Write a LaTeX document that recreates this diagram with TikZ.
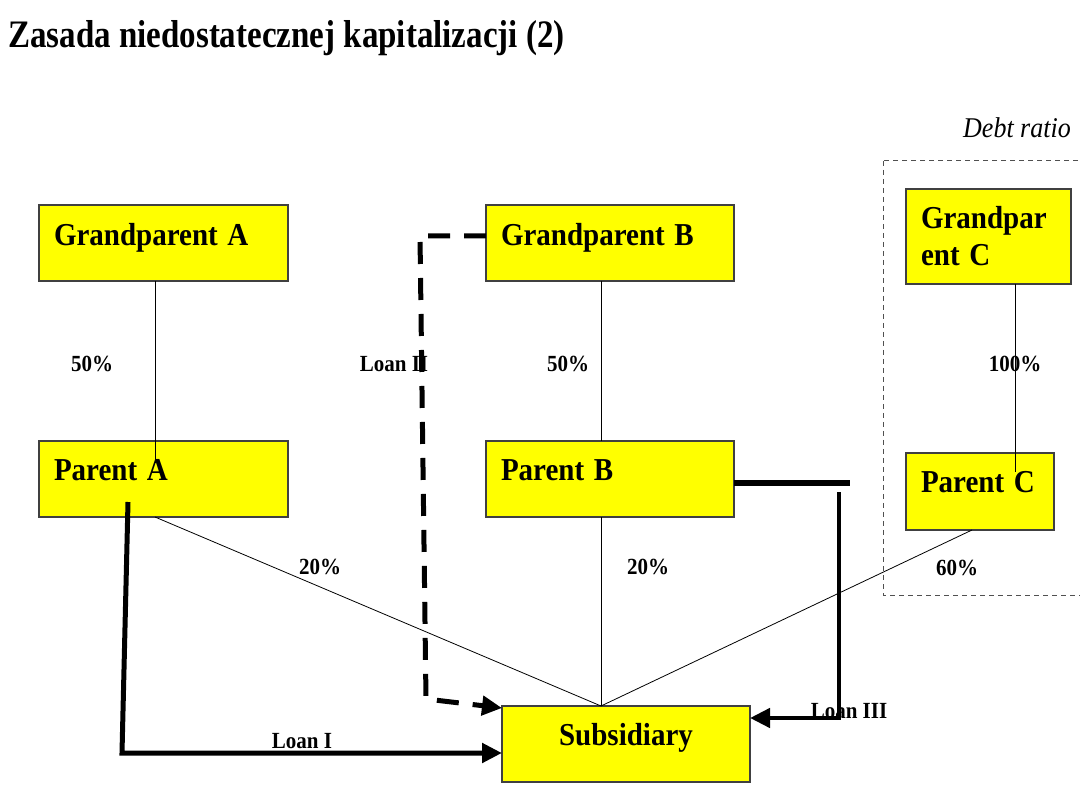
\documentclass[tikz,border=0pt]{standalone}
\usepackage{fontspec}
\setmainfont{Liberation Serif}
\usepackage{graphicx}
\usetikzlibrary{arrows.meta}
\newcommand{\vstretch}[2]{\scalebox{1}[#1]{#2}}
\newcommand{\boxfont}{\fontsize{29}{37}\selectfont\bfseries}
\newcommand{\lblfont}{\fontsize{21}{25}\selectfont\bfseries}
\newcommand{\titlefont}{\fontsize{33}{40}\selectfont\bfseries}
\definecolor{boxyellow}{HTML}{FFFF00}
\definecolor{boxedge}{HTML}{404040}
\definecolor{dashgray}{HTML}{505050}
\tikzset{
  box/.style={draw=boxedge, fill=boxyellow, line width=1.3pt, anchor=north west,
    inner xsep=15pt, inner ysep=0pt, outer sep=0pt, align=left, font=\boxfont},
  lbl/.style={anchor=base, inner sep=0pt, font=\lblfont},
  own/.style={line width=0.8pt, black},
  loan/.style={line width=4.5pt, -{Triangle[length=20pt 0 0,width=19pt 0 0]}},
  loanplain/.style={line width=4.5pt},
}
\begin{document}
\begin{tikzpicture}[x=1pt,y=-1pt]
\useasboundingbox (0,0) rectangle (1080,810);
% title
\node[anchor=base west, inner sep=0pt, font=\titlefont] (title) at (8,48)
  {\vstretch{1.18}{Zasada niedostatecznej kapitalizacji (2)}};
% debt ratio region
\node[anchor=base, inner sep=0pt, font=\fontsize{26}{30}\selectfont\itshape] (dr) at (1017,138)
  {\vstretch{1.1}{Debt ratio}};
\draw[dashgray, line width=1pt, dash pattern=on 5pt off 4pt] (883,161) rectangle (1100,595);
% boxes
\node[box, text width=219pt, text height=41pt, text depth=35pt] (ga) at (39,205) {\vstretch{1.1}{Grandparent A}};
\node[box, text width=218pt, text height=41pt, text depth=35pt] (gb) at (486,205) {\vstretch{1.1}{Grandparent B}};
\node[box, text width=135pt, minimum height=95pt] (gc) at (906,189) {\vstretch{1.1}{Grandpar}\\\vstretch{1.1}{ent C}};
\node[box, text width=219pt, text height=40pt, text depth=36pt] (pa) at (39,441) {\vstretch{1.1}{Parent A}};
\node[box, text width=218pt, text height=40pt, text depth=36pt] (pb) at (486,441) {\vstretch{1.1}{Parent B}};
\node[box, text width=118pt, text height=40pt, text depth=37pt] (pc) at (906,453) {\vstretch{1.1}{Parent C}};
\node[box, text width=218pt, text height=39pt, text depth=37pt, align=center] (sub) at (502,706) {\vstretch{1.1}{Subsidiary}};
% helper coordinates
\coordinate (pain) at (155,463);
\coordinate (gbx) at (601,0);
\coordinate (pcin) at (1015,472);
\coordinate (pcout) at (972,530);
\coordinate (subtop) at (601,706);
\coordinate (paout) at (155,517);
% ownership lines
\draw[own] (ga.south -| pain) -- (pain);
\draw[own] (gb.south -| gbx) -- (pb.north -| gbx);
\draw[own] (gc.south -| pcin) -- (pcin);
\draw[own] (paout) -- (subtop);
\draw[own] (pb.south -| gbx) -- (subtop);
\draw[own] (pcout) -- (subtop);
% labels
\node[lbl] (l50a) at (92,372) {\vstretch{1.1}{50\%}};
\node[lbl] (lloan2) at (394,372) {\vstretch{1.1}{Loan II}};
\node[lbl] (l50b) at (568,372) {\vstretch{1.1}{50\%}};
\node[lbl] (l100) at (1015,372) {\vstretch{1.1}{100\%}};
\node[lbl] (l20a) at (320,574) {\vstretch{1.1}{20\%}};
\node[lbl] (l20b) at (648,574) {\vstretch{1.1}{20\%}};
\node[lbl] (l60) at (957,575) {\vstretch{1.1}{60\%}};
\node[lbl] (lloan1) at (302,748) {\vstretch{1.1}{Loan I}};
\node[lbl] (lloan3) at (849,718) {\vstretch{1.1}{Loan III}};
% Loan I
\coordinate (l1a) at (128,502);
\coordinate (l1b) at (122,753);
\draw[loan, line width=5pt] (l1a) -- (l1b) -- (l1b -| sub.west);
% Loan II
\coordinate (l2a) at (420,236);
\coordinate (l2b) at (426,699);
\coordinate (l2c) at (502,708);
\draw[loan, line width=5pt, dash pattern=on 22pt off 14pt] (gb.west |- l2a) -- (l2a) -- (l2b) -- (l2c);
% Loan III
\coordinate (l3a) at (850,483);
\coordinate (l3b) at (839,492);
\coordinate (l3c) at (839,718);
\draw[loanplain, line width=6.5pt] (pb.east |- l3a) -- (l3a);
\draw[loan] (l3b) -- (l3c) -- (l3c -| sub.east);
\end{tikzpicture}
\end{document}
